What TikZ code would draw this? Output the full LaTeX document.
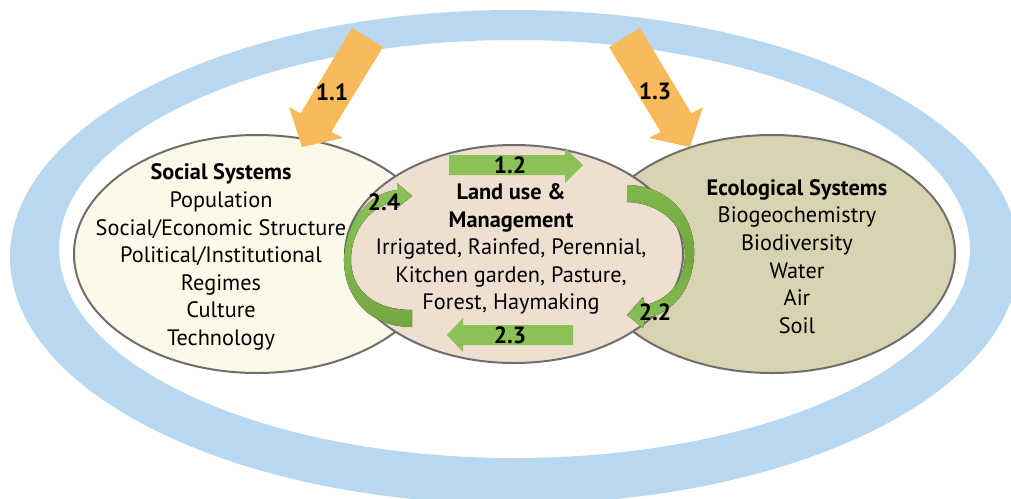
\documentclass[tikz,border=0pt]{standalone}
\usepackage{fontspec}
\setmainfont{PT Sans}
\usetikzlibrary{shapes.geometric}
\definecolor{ringblue}{HTML}{B8D8F1}
\definecolor{orng}{HTML}{F9BA5B}
\definecolor{gl}{HTML}{8BC157}
\definecolor{gm}{HTML}{80B84C}
\definecolor{gd}{HTML}{72A73F}
\definecolor{socfill}{HTML}{FDF9E8}
\definecolor{landfill}{HTML}{EEDFD0}
\definecolor{ecofill}{HTML}{D8D3B0}
\definecolor{edgegray}{HTML}{6E6E6E}
\tikzset{
  sysell/.style={ellipse, draw=edgegray, line width=2pt, inner sep=0pt},
  txt/.style={align=center, inner sep=0pt, font=\fontsize{22.3}{27.6}\selectfont},
  lbl/.style={inner sep=0pt, font=\bfseries\fontsize{23.5}{26}\selectfont},
  bigarrow/.style={fill=orng},
  flatarrow/.style={fill=gl},
}
\begin{document}
\begin{tikzpicture}[x=1pt,y=-1pt]
\useasboundingbox (0,0) rectangle (1011,498);
\clip (0,0) rectangle (1011,498);
% outer ring
\fill[ringblue, even odd rule] (514.5,257) ellipse [x radius=504.5, y radius=247]
  (514.5,249) ellipse [x radius=455.5, y radius=209];
% systems
\node[sysell, fill=socfill, minimum width=366pt, minimum height=238pt] (soc) at (257,254) {};
\node[sysell, fill=ecofill, minimum width=366pt, minimum height=238pt] (eco) at (772,254) {};
\node[sysell, fill=landfill, minimum width=338pt, minimum height=218pt] (land) at (514,254) {};
% texts
\node[txt] (soctxt) at (221,257) {\textbf{Social Systems}\\Population\\Social/Economic Structure\\Political/Institutional\\Regimes\\Culture\\Technology};
\node[txt] (ecotxt) at (797,256.5) {\textbf{Ecological Systems}\\Biogeochemistry\\Biodiversity\\Water\\Air\\Soil};
\node[txt] (landtxt) at (511,249) {\textbf{Land use \&}\\\textbf{Management}\\Irrigated, Rainfed, Perennial,\\Kitchen garden, Pasture,\\Forest, Haymaking};
% orange arrows
\fill[bigarrow] (352,28) -- (383,47) -- (331.4,131.7) -- (343,138) -- (302,147) -- (289,107) -- (300.6,113.3) -- cycle;
\fill[bigarrow] (640,28) -- (609,47) -- (660.6,131.7) -- (649,138) -- (690,147) -- (703,107) -- (691.4,113.3) -- cycle;
\node[lbl] (l11) at (332,92) {1.1};
\node[lbl] (l13) at (655,91) {1.3};
% green straight arrows
\fill[flatarrow] (449,155) -- (565,155) -- (565,148) -- (583,165) -- (565,183) -- (565,175) -- (449,175) -- cycle;
\fill[flatarrow] (573,325) -- (463,325) -- (463,318) -- (447,335) -- (463,352) -- (463,345) -- (573,345) -- cycle;
\node[lbl] (l12) at (510,165) {1.2};
\node[lbl] (l23) at (510,335) {2.3};
% green curved arrows
\fill[top color=gm, bottom color=gl, middle color=gd]
  (627,185) .. controls (672,186) and (696,220) .. (694,256)
  .. controls (692,290) and (672,314) .. (645,318) -- (643,328) -- (627,315) -- (643,297) -- (645,305)
  .. controls (668,300) and (684,282) .. (685,256)
  .. controls (686,228) and (663,203) .. (627,202) -- cycle;
\fill[top color=gl, bottom color=gd, middle color=gm]
  (412,327) .. controls (365,327) and (343,292) .. (344,258)
  .. controls (346,222) and (368,193) .. (397,190) -- (397,183) -- (412,196) -- (397,208) -- (397,201)
  .. controls (372,205) and (352,228) .. (351,258)
  .. controls (350,288) and (372,310) .. (412,310) -- cycle;
\node[lbl] (l22) at (655,312) {2.2};
\node[lbl] (l24) at (384,202) {2.4};
\end{tikzpicture}
\end{document}
